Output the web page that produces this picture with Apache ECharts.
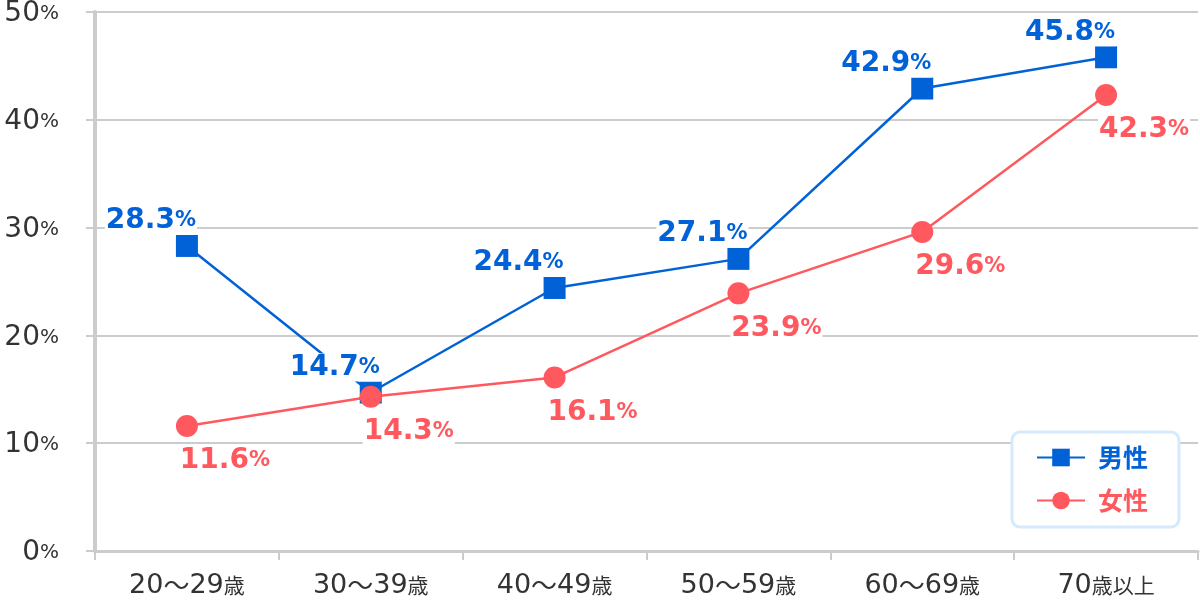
<!DOCTYPE html>
<html>
<head>
<meta charset="utf-8">
<script src="https://cdn.jsdelivr.net/npm/echarts@6/dist/echarts.min.js"></script>
<style>html,body{margin:0;padding:0;background:#fff;}#c{width:1200px;height:600px;}</style>
</head>
<body>
<div id="c"></div>
<script>
const categories = ['20〜29歳', '30〜39歳', '40〜49歳', '50〜59歳', '60〜69歳', '70歳以上'];
const maleValues = [28.3, 14.7, 24.4, 27.1, 42.9, 45.8];
const femaleValues = [11.6, 14.3, 16.1, 23.9, 29.6, 42.3];
const seriesNames = ['男性', '女性'];
const yTicks = [0, 10, 20, 30, 40, 50];

const FONT = '"DejaVu Sans", Verdana, "Noto Sans CJK JP", sans-serif';
const BLUE = '#0062d6';
const RED = '#ff585e';

function catLabel(v) {
  let out = '';
  for (const ch of v) {
    if (/[0-9]/.test(ch)) out += '{n|' + ch + '}';
    else if (ch === '〜') out += '{t|' + ch + '}';
    else out += '{k|' + ch + '}';
  }
  return out;
}

const chart = echarts.init(document.getElementById('c'), null, {renderer: 'canvas'});
chart.setOption({
  animation: false,
  backgroundColor: '#fff',
  grid: {left: 95, right: 2, top: 10, bottom: 49, containLabel: false},
  xAxis: {
    type: 'category',
    data: categories,
    boundaryGap: true,
    axisLine: {lineStyle: {color: '#cccccc', width: 3}},
    axisTick: {show: true, interval: 0, length: 9, lineStyle: {color: '#cccccc', width: 2}},
    axisLabel: {
      interval: 0,
      margin: 21,
      formatter: catLabel,
      rich: {
        n: {fontFamily: FONT, fontSize: 27, color: '#333'},
        t: {fontFamily: '"Noto Sans CJK JP", sans-serif', fontSize: 26, color: '#333'},
        k: {fontFamily: '"Noto Sans CJK JP", sans-serif', fontSize: 21, color: '#333'}
      }
    }
  },
  yAxis: {
    type: 'value',
    min: yTicks[0],
    max: yTicks[yTicks.length - 1],
    interval: 10,
    axisLine: {show: true, lineStyle: {color: '#cccccc', width: 4}},
    axisTick: {show: true, length: 9, lineStyle: {color: '#cccccc', width: 2}},
    splitLine: {lineStyle: {color: '#cccccc', width: 2}},
    axisLabel: {
      margin: 36,
      formatter: v => '{n|' + v + '}{p|%}',
      rich: {
        n: {fontFamily: FONT, fontSize: 28, color: '#333', padding: [4, 0, 0, 0]},
        p: {fontFamily: FONT, fontSize: 20, color: '#333', padding: [4, 0, 0, 0]}
      }
    }
  },
  legend: {
    orient: 'vertical',
    left: 1012,
    top: 432,
    padding: [13, 31, 14, 24],
    itemWidth: 48,
    itemHeight: 22,
    itemGap: 18,
    backgroundColor: '#fff',
    borderColor: '#d5eafd',
    borderWidth: 3,
    borderRadius: 8,
    data: [
      {name: seriesNames[0], textStyle: {color: BLUE}},
      {name: seriesNames[1], textStyle: {color: RED}}
    ],
    textStyle: {fontFamily: '"Noto Sans CJK JP", sans-serif', fontSize: 25, fontWeight: 'bold', padding: [0, 0, 0, 8]}
  },
  series: [
    {
      name: seriesNames[0],
      type: 'line',
      data: maleValues,
      symbol: 'rect',
      symbolSize: 22,
      itemStyle: {color: BLUE},
      lineStyle: {color: BLUE, width: 2.5},
      label: {
        show: true,
        position: 'top',
        distance: 0,
        offset: [-36, 0],
        backgroundColor: '#fff',
        padding: [0, 1, 0, 1],
        formatter: p => '{n|' + p.value.toFixed(1) + '}{p|%}',
        rich: {
          n: {fontFamily: FONT, fontSize: 28, fontWeight: 'bold', color: BLUE},
          p: {fontFamily: FONT, fontSize: 21, fontWeight: 'bold', color: BLUE}
        }
      }
    },
    {
      name: seriesNames[1],
      type: 'line',
      data: femaleValues,
      symbol: 'circle',
      symbolSize: 22,
      itemStyle: {color: RED},
      lineStyle: {color: RED, width: 2.5},
      label: {
        show: true,
        position: 'bottom',
        distance: 10,
        offset: [38, 0],
        backgroundColor: '#fff',
        padding: [0, 1, 0, 1],
        formatter: p => '{n|' + p.value.toFixed(1) + '}{p|%}',
        rich: {
          n: {fontFamily: FONT, fontSize: 28, fontWeight: 'bold', color: RED},
          p: {fontFamily: FONT, fontSize: 21, fontWeight: 'bold', color: RED}
        }
      }
    }
  ]
});
</script>
</body>
</html>
